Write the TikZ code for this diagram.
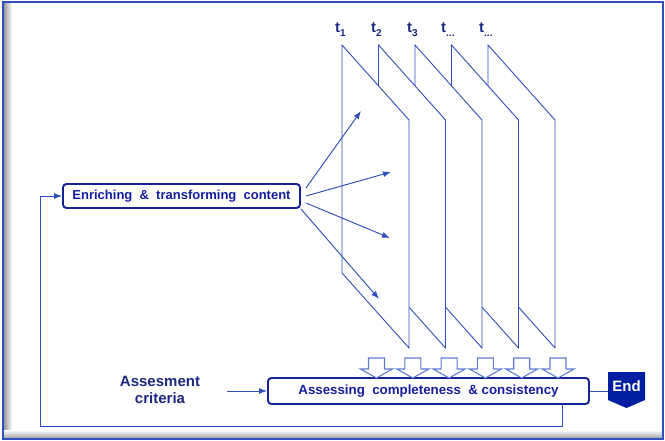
\documentclass[tikz,border=0pt]{standalone}
\usepackage{fontspec}
\setmainfont{Liberation Sans}
\usetikzlibrary{arrows.meta,calc}
\definecolor{lineblue}{RGB}{48,78,190}
\definecolor{boxblue}{RGB}{20,36,150}
\definecolor{textblue}{RGB}{22,30,160}
\definecolor{darktext}{RGB}{28,40,130}
\definecolor{endblue}{RGB}{0,30,160}
\definecolor{blockblue}{RGB}{95,125,210}
\begin{document}
\begin{tikzpicture}[x=1pt,y=-1pt,
  plane/.style={draw=lineblue,fill=white,line width=0.9pt,line join=miter},
  procbox/.style={draw=boxblue,line width=1.9pt,rounded corners=3.5pt,fill=white,
    font=\bfseries\fontsize{13}{15}\selectfont,text=textblue,inner sep=0pt},
  arr/.style={draw=lineblue,line width=0.95pt,-{Latex[length=8pt,width=6pt]}},
  conn/.style={draw=lineblue,line width=0.95pt},
  blockarrow/.style={draw=blockblue,fill=white,line width=1.1pt,line join=miter},
  tlabel/.style={font=\bfseries\fontsize{15}{15}\selectfont,text=darktext,anchor=base west,inner sep=0pt},
  lbl/.style={font=\bfseries\fontsize{15}{17.5}\selectfont,text=darktext,align=center,inner sep=0pt}]
\useasboundingbox (0,0) rectangle (665,441);
% frame
\shade[left color=gray!80,right color=white] (4,3) rectangle (12,439);
\shade[top color=white,bottom color=gray!80] (4,430) rectangle (662,439);
\draw[lineblue,line width=1.4pt] (3,2) rectangle (663,439);
% planes (back to front)
\foreach \i in {4,3,2,1,0}{
  \pgfmathsetmacro{\L}{342+\i*36.5}
  \draw[plane] (\L,45) -- (\L+67,120) -- (\L+67,348) -- (\L,273) -- cycle;
}
% time labels
\node[tlabel] (t1) at (335,33) {t\raisebox{-3.5pt}{\fontsize{10}{10}\selectfont 1}};
\node[tlabel] (t2) at (371,33) {t\raisebox{-3.5pt}{\fontsize{10}{10}\selectfont 2}};
\node[tlabel] (t3) at (407,33) {t\raisebox{-3.5pt}{\fontsize{10}{10}\selectfont 3}};
\node[tlabel] (t4) at (441,33) {t\raisebox{-3.5pt}{\fontsize{10}{10}\selectfont ...}};
\node[tlabel] (t5) at (479,33) {t\raisebox{-3.5pt}{\fontsize{10}{10}\selectfont ...}};
% process boxes
\node[procbox,minimum width=237pt,minimum height=24pt] (enrich) at (181.5,196)
  {Enriching\ \ \&\ \ transforming\ \ content};
\node[procbox,minimum width=321pt,minimum height=26pt,font=\bfseries\fontsize{13.3}{15}\selectfont] (assess) at (428.5,391)
  {Assessing\ \ completeness\ \ \&\ consistency};
% block arrows
\foreach \c in {376.5,412.8,449.1,485.4,521.7,558}{
  \draw[blockarrow] (\c-8,358) -- (\c+8,358) -- (\c+8,369) -- (\c+16,369) -- (\c,378) -- (\c-16,369) -- (\c-8,369) -- cycle;
}
% fan arrows
\coordinate (s1) at (306,188);
\coordinate (s2) at (306,196);
\coordinate (s3) at (306,203);
\coordinate (s4) at (301,209);
\coordinate (e1) at (361,111);
\coordinate (e2) at (391,172);
\coordinate (e3) at (390,238);
\coordinate (e4) at (379,299);
\draw[arr] (s1) -- (e1);
\draw[arr] (s2) -- (e2);
\draw[arr] (s3) -- (e3);
\draw[arr] (s4) -- (e4);
% assessment criteria
\node[lbl] (crit) at (160,390) {Assesment\\criteria};
\coordinate (cstart) at (227,391);
\draw[arr] (cstart) -- (assess.west);
% feedback loop
\coordinate (fbx) at (562,0);
\coordinate (loopc) at (40,426);
\draw[arr] (assess.south -| fbx) |- (loopc) |- (enrich.west);
% end
\fill[endblue] (608,372) -- (645,372) -- (645,400) -- (626.5,408) -- (608,400) -- cycle;
\node[font=\bfseries\fontsize{15}{15}\selectfont,text=white,minimum width=37pt,minimum height=28pt,inner sep=0pt] (end) at (626.5,386) {End};
\draw[conn] (assess.east) -- (assess.east -| end.west);
\end{tikzpicture}
\end{document}
